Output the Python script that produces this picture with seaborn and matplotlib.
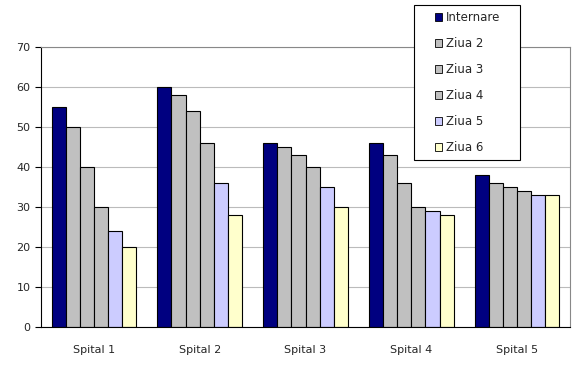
import matplotlib
matplotlib.use("Agg")
import matplotlib.pyplot as plt
import seaborn as sns
import pandas as pd
from matplotlib.patches import Patch, Rectangle

categories = ["Spital 1", "Spital 2", "Spital 3", "Spital 4", "Spital 5"]
series = ["Internare", "Ziua 2", "Ziua 3", "Ziua 4", "Ziua 5", "Ziua 6"]
internare = [55, 60, 46, 46, 38]
ziua2 = [50, 58, 45, 43, 36]
ziua3 = [40, 54, 43, 36, 35]
ziua4 = [30, 46, 40, 30, 34]
ziua5 = [24, 36, 35, 29, 33]
ziua6 = [20, 28, 30, 28, 33]
colors = ["#000080", "#C0C0C0", "#C0C0C0", "#C0C0C0", "#CCCCFF", "#FFFFCC"]

rows = []
for name, vals in zip(series, [internare, ziua2, ziua3, ziua4, ziua5, ziua6]):
    for c, v in zip(categories, vals):
        rows.append({"cat": c, "series": name, "val": v})
df = pd.DataFrame(rows)

sns.set_style("white")
plt.rcParams["font.family"] = ["DejaVu Sans"]
fig = plt.figure(figsize=(5.76, 3.70), dpi=100)
ax = fig.add_axes([41/576, 43/370, 529/576, 280/370])
sns.barplot(data=df, x="cat", y="val", hue="series", palette=colors,
            width=0.8, gap=0, edgecolor="black", linewidth=0.8,
            saturation=1, ax=ax, legend=False)
ax.set_ylim(0, 70)
ax.set_xlim(-0.5, 4.5)
ax.set_yticks(range(0, 71, 10))
ax.yaxis.grid(True, color="#BBBBBB", linewidth=0.8)
ax.set_axisbelow(True)
ax.set_xlabel("")
ax.set_ylabel("")
ax.set_xticks([i for i in range(5)])
ax.set_xticklabels(categories, fontsize=8)
ax.tick_params(axis="x", length=0, pad=13)
ax.set_xticks([i - 0.5 for i in range(6)], minor=True)
ax.tick_params(axis="x", which="minor", length=4, color="black", direction="out")
ax.tick_params(axis="y", labelsize=8, length=4, color="black", direction="out", left=True)
for s in ["left", "bottom"]:
    ax.spines[s].set_color("black")
    ax.spines[s].set_linewidth(0.8)
for s in ["top", "right"]:
    ax.spines[s].set_color("#888888")
    ax.spines[s].set_linewidth(0.8)

# legend box
fig.patches.append(Rectangle((414/576, 1 - 160/370), 106/576, 155/370,
                             transform=fig.transFigure, facecolor="white",
                             edgecolor="black", linewidth=0.8, zorder=5))
handles = [Patch(facecolor=c, edgecolor="black", linewidth=0.6) for c in colors]
leg = fig.legend(handles, series, loc="upper left",
                 bbox_to_anchor=(435/576, 1 - 11/370), fontsize=8.5,
                 frameon=False, handlelength=0.6, handleheight=0.6,
                 handletextpad=0.35, labelspacing=1.1, borderpad=0,
                 borderaxespad=0)
leg.set_zorder(6)
fig.savefig("out.png", dpi=100, facecolor="white")
